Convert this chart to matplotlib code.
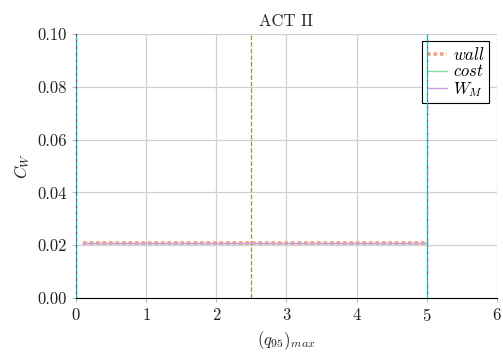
import matplotlib
matplotlib.use("Agg")
import matplotlib.pyplot as plt

plt.rcParams["font.family"] = "serif"
plt.rcParams["font.serif"] = ["cmr10"]
plt.rcParams["mathtext.fontset"] = "cm"
plt.rcParams["axes.formatter.use_mathtext"] = True

# q95 scan and cost-weight values
q95_max = [0.1, 0.5, 1.0, 1.5, 2.0, 2.5, 3.0, 3.5, 4.0, 4.5, 5.0]
c_wall = [0.021] * len(q95_max)
c_cost = [0.021] * len(q95_max)
c_wm = [0.021] * len(q95_max)

x_bounds = [0.0, 5.0]
x_mid = 2.5

fig = plt.figure(figsize=(5.03, 3.54), dpi=100)
ax = fig.add_axes([0.151, 0.158, 0.837, 0.746])

ax.plot(q95_max, c_wall, color="#f4a080", lw=2.6, ls=(0, (1, 0.8)), label=r"$wall$", zorder=4)
ax.plot(q95_max, c_cost, color="#88d898", lw=1.0, label=r"$cost$", zorder=3)
ax.plot(q95_max, c_wm, color="#c8a0e0", lw=1.0, label=r"$W_M$", zorder=5)

for xb in x_bounds:
    ax.axvline(xb, color="#10c0c8", lw=0.9, ls="--", gapcolor="#606060", zorder=6)
ax.axvline(x_mid, color="#a89040", lw=0.9, ls="--", zorder=2)

ax.set_xlim(0, 6)
ax.set_ylim(0, 0.1)
ax.set_xticks(range(7))
ax.set_yticks([0.0, 0.02, 0.04, 0.06, 0.08, 0.10])
ax.set_yticklabels(["0.00", "0.02", "0.04", "0.06", "0.08", "0.10"])
ax.tick_params(labelsize=12, length=3, color="#bbbbbb", labelcolor="#222222")
ax.grid(color="#d0d0d0", lw=0.9)
ax.set_axisbelow(True)
ax.spines["top"].set_visible(False)
ax.spines["right"].set_visible(False)

ax.set_xlabel(r"$(q_{95})_{max}$", fontsize=12, color="#222222")
ax.set_ylabel(r"$C_W$", fontsize=12, color="#222222")
ax.set_title("ACT II", fontsize=12, color="#222222")

leg = ax.legend(loc="upper right", fontsize=12, fancybox=False, framealpha=1,
                edgecolor="black", handlelength=1.2, handletextpad=0.4,
                labelspacing=0.05, borderpad=0.25, borderaxespad=0.45)
leg.get_frame().set_linewidth(0.8)

fig.savefig("out.png", dpi=100)
plt.close(fig)
